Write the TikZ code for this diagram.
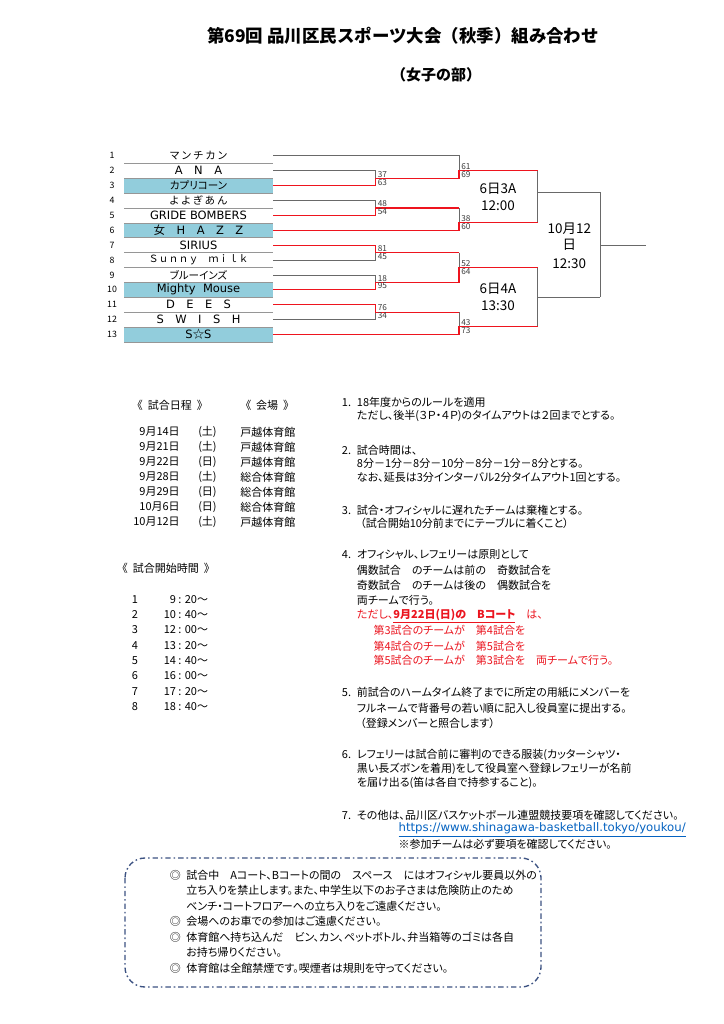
\documentclass[tikz,border=0pt]{standalone}
\usepackage{fontspec}
\setmainfont{Noto Sans CJK JP}[RawFeature=+palt]
\newfontfamily\jpfull{Noto Sans CJK JP}
\newfontfamily\latn{DejaVu Sans}

\definecolor{cellblue}{RGB}{146,205,220}
\definecolor{winred}{RGB}{238,20,30}
\definecolor{linegray}{RGB}{105,105,105}
\definecolor{cellgray}{RGB}{150,150,150}
\definecolor{scoregray}{RGB}{60,60,60}
\definecolor{txtred}{RGB}{235,20,30}
\definecolor{urlblue}{RGB}{5,99,193}
\definecolor{boxblue}{RGB}{60,82,130}

\tikzset{
  lbl/.style={anchor=west,inner sep=0pt,font=\fontsize{8.25}{10}\selectfont},
  redlbl/.style={lbl,text=txtred},
  teamjp/.style={inner sep=0pt,font=\fontsize{7.9}{9}\selectfont},
  teamla/.style={inner sep=0pt,font=\latn\fontsize{8.6}{9}\selectfont},
  rownum/.style={inner sep=0pt,font=\fontsize{6.6}{7}\selectfont},
  score/.style={anchor=west,inner sep=0pt,font=\fontsize{6.2}{7}\selectfont,text=scoregray},
  slot/.style={inner sep=0pt,font=\fontsize{10.1}{12}\selectfont},
  wline/.style={draw=winred,line width=0.9pt},
  lline/.style={draw=linegray,line width=0.6pt},
  cellline/.style={draw=cellgray,line width=0.5pt},
}

\begin{document}
\begin{tikzpicture}[x=0.75pt,y=0.75pt,yscale=-1,xscale=1]
\fill[white] (0,0) rectangle (724,1024);
\useasboundingbox (0,0) rectangle (724,1024);

% Text Node
\node[font=\jpfull\bfseries\fontsize{13.1}{15}\selectfont] (title) at (403,35.7) {第69回 品川区民スポーツ大会（秋季）組み合わせ};
% Text Node
\node[font=\jpfull\bfseries\fontsize{11.25}{13}\selectfont] (subtitle) at (436,75) {（女子の部）};

%Shape: Rectangle (seeded teams)
\fill[cellblue] (124,178.2) rectangle (273,193.1);
\fill[cellblue] (124,222.9) rectangle (273,237.8);
\fill[cellblue] (124,282.5) rectangle (273,297.4);
\fill[cellblue] (124,327.2) rectangle (273,342.1);
%Straight Lines (cell borders)
\draw[cellline] (124,163.3) -- (273,163.3);
\draw[cellline] (124,178.2) -- (273,178.2);
\draw[cellline] (124,193.1) -- (273,193.1);
\draw[cellline] (124,208.0) -- (273,208.0);
\draw[cellline] (124,222.9) -- (273,222.9);
\draw[cellline] (124,237.8) -- (273,237.8);
\draw[cellline] (124,252.7) -- (273,252.7);
\draw[cellline] (124,267.6) -- (273,267.6);
\draw[cellline] (124,282.5) -- (273,282.5);
\draw[cellline] (124,297.4) -- (273,297.4);
\draw[cellline] (124,312.3) -- (273,312.3);
\draw[cellline] (124,327.2) -- (273,327.2);
\draw[cellline] (124,342.1) -- (273,342.1);

% Text Node (draw numbers)
\node[rownum] (n1) at (112,155.7) {1};
\node[rownum] (n2) at (112,170.6) {2};
\node[rownum] (n3) at (112,185.5) {3};
\node[rownum] (n4) at (112,200.4) {4};
\node[rownum] (n5) at (112,215.3) {5};
\node[rownum] (n6) at (112,230.2) {6};
\node[rownum] (n7) at (112,245.1) {7};
\node[rownum] (n8) at (112,260.0) {8};
\node[rownum] (n9) at (112,274.9) {9};
\node[rownum] (n10) at (112,289.8) {10};
\node[rownum] (n11) at (112,304.7) {11};
\node[rownum] (n12) at (112,319.6) {12};
\node[rownum] (n13) at (112,334.5) {13};

% Text Node (teams)
\node[teamjp] (t1) at (198.5,155.7) {マ ン チ カ ン};
\node[teamla] (t2) at (198.5,170.6) {A\quad N\quad A};
\node[teamjp] (t3) at (198.5,185.5) {カプリコーン};
\node[teamjp] (t4) at (198.5,200.4) {よ よ ぎ あ ん};
\node[teamla] (t5) at (198.5,215.3) {GRIDE BOMBERS};
\node[teamla] (t6) at (198.5,230.2) {{\rmfamily 女}\quad H\quad A\quad Z\quad Z};
\node[teamla] (t7) at (198.5,245.1) {SIRIUS};
\node[teamjp,font=\jpfull\fontsize{7.5}{9}\selectfont] (t8) at (198.5,260.0) {Ｓｕｎｎｙ　ｍｉｌｋ};
\node[teamjp] (t9) at (198.5,274.9) {ブルーインズ};
\node[teamla] (t10) at (198.5,289.8) {Mighty\ \ Mouse};
\node[teamla] (t11) at (198.5,304.7) {D\quad E\quad E\quad S};
\node[teamla] (t12) at (198.5,319.6) {S\quad W\quad I\quad S\quad H};
\node[teamla] (t13) at (198.5,334.5) {S{\rmfamily ☆}S};

%Straight Lines (lost)
\draw[lline] (273,155.7) -- (459,155.7) -- (459,170.7);
\draw[lline] (273,170.6) -- (375.7,170.6) -- (375.7,178.1);
\draw[lline] (273,200.4) -- (375.7,200.4) -- (375.7,207.9);
\draw[lline] (459,207.9) -- (459,222.5);
\draw[lline] (273,260.0) -- (375.7,260.0) -- (375.7,252.6);
\draw[lline] (459,252.6) -- (459,267.5);
\draw[lline] (273,274.9) -- (375.7,274.9) -- (375.7,282.4);
\draw[lline] (273,319.6) -- (375.7,319.6) -- (375.7,312.2);
\draw[lline] (459,312.2) -- (459,326.5);
\draw[lline] (537.7,170.7) -- (537.7,222.5);
\draw[lline] (537.7,267.5) -- (537.7,326.5);
\draw[lline] (537.7,192.2) -- (600,192.2);
\draw[lline] (537.7,297) -- (600,297);
\draw[lline] (600,192.2) -- (600,297);
\draw[lline] (600,245) -- (645.7,245);

%Straight Lines (won)
\draw[wline] (273,185.5) -- (375.7,185.5) -- (375.7,178.1) -- (459,178.1) -- (459,170.7) -- (537.7,170.7);
\draw[wline] (273,215.3) -- (375.7,215.3) -- (375.7,207.9) -- (459,207.9);
\draw[wline] (273,230.2) -- (459,230.2) -- (459,222.5) -- (537.7,222.5);
\draw[wline] (273,245.1) -- (375.7,245.1) -- (375.7,252.6) -- (459,252.6);
\draw[wline] (273,289.8) -- (375.7,289.8) -- (375.7,282.4) -- (459,282.4) -- (459,267.5) -- (537.7,267.5);
\draw[wline] (273,304.7) -- (375.7,304.7) -- (375.7,312.2) -- (459,312.2);
\draw[wline] (273,334.5) -- (459,334.5) -- (459,326.5) -- (537.7,326.5);

% Text Node (scores)
\node[score] (s2) at (377.5,174.3) {37};
\node[score] (s3) at (377.5,182.3) {63};
\node[score] (s4) at (377.5,204) {48};
\node[score] (s5) at (377.5,212) {54};
\node[score] (s7) at (377.5,249) {81};
\node[score] (s8) at (377.5,256.7) {45};
\node[score] (s9) at (377.5,278.3) {18};
\node[score] (s10) at (377.5,286) {95};
\node[score] (s11) at (377.5,307.7) {76};
\node[score] (s12) at (377.5,315.3) {34};
\node[score] (r1) at (461,166.7) {61};
\node[score] (r3) at (461,174.7) {69};
\node[score] (r5) at (461,219) {38};
\node[score] (r6) at (461,227) {60};
\node[score] (r7) at (461,264) {52};
\node[score] (r10) at (461,271.7) {64};
\node[score] (r11) at (461,322.7) {43};
\node[score] (r13) at (461,330.7) {73};

% Text Node (slots)
\node[slot] (sf1a) at (498,188.3) {6日3A};
\node[slot] (sf1b) at (498,205.7) {12:00};
\node[slot] (sf2a) at (498,288.3) {6日4A};
\node[slot] (sf2b) at (498,305.7) {13:30};
\node[slot] (fina) at (569.3,228.3) {10月12};
\node[slot] (finb) at (569.3,245) {日};
\node[slot] (finc) at (569.3,263.3) {12:30};

% Text Node (schedule)
\node[lbl] (datehead) at (131.7,405) {{\jpfull 《\ \ 試合日程\ \ 》}};
\node[lbl] (venuehead) at (240,405) {{\jpfull 《\ \ 会場\ \ 》}};
\node[lbl,anchor=east] (d1) at (180,432) {9月14日};
\node[lbl] (w1) at (198,432) {(土)};
\node[lbl] (v1) at (240,432) {戸越体育館};
\node[lbl,anchor=east] (d2) at (180,447) {9月21日};
\node[lbl] (w2) at (198,447) {(土)};
\node[lbl] (v2) at (240,447) {戸越体育館};
\node[lbl,anchor=east] (d3) at (180,462) {9月22日};
\node[lbl] (w3) at (198,462) {(日)};
\node[lbl] (v3) at (240,462) {戸越体育館};
\node[lbl,anchor=east] (d4) at (180,477) {9月28日};
\node[lbl] (w4) at (198,477) {(土)};
\node[lbl] (v4) at (240,477) {総合体育館};
\node[lbl,anchor=east] (d5) at (180,492) {9月29日};
\node[lbl] (w5) at (198,492) {(日)};
\node[lbl] (v5) at (240,492) {総合体育館};
\node[lbl,anchor=east] (d6) at (180,507) {10月6日};
\node[lbl] (w6) at (198,507) {(日)};
\node[lbl] (v6) at (240,507) {総合体育館};
\node[lbl,anchor=east] (d7) at (180,522) {10月12日};
\node[lbl] (w7) at (198,522) {(土)};
\node[lbl] (v7) at (240,522) {戸越体育館};

% Text Node (start times)
\node[lbl] (timehead) at (116.7,568.3) {{\jpfull 《\ \ 試合開始時間\ \ 》}};
\node[lbl,anchor=center] (g1) at (135,599.3) {1};
\node[lbl,anchor=east] (h1) at (208.3,599.3) {9 : 20～};
\node[lbl,anchor=center] (g2) at (135,614.6) {2};
\node[lbl,anchor=east] (h2) at (208.3,614.6) {10 : 40～};
\node[lbl,anchor=center] (g3) at (135,629.9) {3};
\node[lbl,anchor=east] (h3) at (208.3,629.9) {12 : 00～};
\node[lbl,anchor=center] (g4) at (135,645.2) {4};
\node[lbl,anchor=east] (h4) at (208.3,645.2) {13 : 20～};
\node[lbl,anchor=center] (g5) at (135,660.5) {5};
\node[lbl,anchor=east] (h5) at (208.3,660.5) {14 : 40～};
\node[lbl,anchor=center] (g6) at (135,675.8) {6};
\node[lbl,anchor=east] (h6) at (208.3,675.8) {16 : 00～};
\node[lbl,anchor=center] (g7) at (135,691.1) {7};
\node[lbl,anchor=east] (h7) at (208.3,691.1) {17 : 20～};
\node[lbl,anchor=center] (g8) at (135,706.4) {8};
\node[lbl,anchor=east] (h8) at (208.3,706.4) {18 : 40～};

% Text Node (rules)
\node[lbl] (rule1) at (341.7,402.7) {\makebox[11.25pt][l]{1.}18年度からのルールを適用};
\node[lbl] (rule1b) at (356.7,416) {ただし、後半(３Ｐ・４Ｐ)のタイムアウトは２回までとする。};
\node[lbl] (rule2) at (341.7,450) {\makebox[11.25pt][l]{2.}試合時間は、};
\node[lbl] (rule2b) at (356.7,463.3) {8分－1分－8分－10分－8分－1分－8分とする。};
\node[lbl] (rule2c) at (356.7,477.3) {なお、延長は3分インターバル2分タイムアウト1回とする。};
\node[lbl] (rule3) at (341.7,510) {\makebox[11.25pt][l]{3.}試合・オフィシャルに遅れたチームは棄権とする。};
\node[lbl] (rule3b) at (360,523.3) {（試合開始10分前までにテーブルに着くこと）};
\node[lbl] (rule4) at (341.7,554) {\makebox[11.25pt][l]{4.}オフィシャル、レフェリーは原則として};
\node[lbl] (rule4b) at (356.7,570.7) {偶数試合　のチームは前の　奇数試合を};
\node[lbl] (rule4c) at (356.7,585.7) {奇数試合　のチームは後の　偶数試合を};
\node[lbl] (rule4d) at (356.7,600) {両チームで行う。};
\node[redlbl] (rule4e) at (356.7,616) {ただし、\underline{\textbf{9月22日(日)の　Bコート}}　は、};
\node[redlbl] (rule4f) at (373.3,630.7) {第3試合のチームが　第4試合を};
\node[redlbl] (rule4g) at (373.3,646) {第4試合のチームが　第5試合を};
\node[redlbl] (rule4h) at (373.3,660.7) {第5試合のチームが　第3試合を　両チームで行う。};
\node[lbl] (rule5) at (341.7,692.3) {\makebox[11.25pt][l]{5.}前試合のハームタイム終了までに所定の用紙にメンバーを};
\node[lbl] (rule5b) at (356.7,708) {フルネームで背番号の若い順に記入し役員室に提出する。};
\node[lbl] (rule5c) at (360,723.3) {（登録メンバーと照合します）};
\node[lbl] (rule6) at (341.7,755) {\makebox[11.25pt][l]{6.}レフェリーは試合前に審判のできる服装(カッターシャツ・};
\node[lbl] (rule6b) at (356.7,769.3) {黒い長ズボンを着用)をして役員室へ登録レフェリーが名前};
\node[lbl] (rule6c) at (356.7,783.3) {を届け出る(笛は各自で持参すること)。};
\node[lbl] (rule7) at (341.7,815) {\makebox[11.25pt][l]{7.}その他は、品川区バスケットボール連盟競技要項を確認してください。};
\node[lbl,text=urlblue,font=\latn\fontsize{8.8}{10}\selectfont] (url) at (398.3,830) {\underline{https://www.shinagawa-basketball.tokyo/youkou/}};
\node[lbl] (rule7c) at (398.3,844.3) {※参加チームは必ず要項を確認してください。};

%Shape: Rounded Rect (notes)
\draw[draw=boxblue,line width=1pt,rounded corners=15pt,dash pattern={on 4pt off 2.2pt on 1.2pt off 2.2pt}] (125,858) rectangle (541,987);
% Text Node (notes)
\node[lbl] (note1) at (186,875) {\llap{◎\hspace{4pt}}試合中　Aコート、Bコートの間の　スペース　にはオフィシャル要員以外の};
\node[lbl] (note1b) at (186,890.5) {立ち入りを禁止します。また、中学生以下のお子さまは危険防止のため};
\node[lbl] (note1c) at (186,906) {ベンチ・コートフロアーへの立ち入りをご遠慮ください。};
\node[lbl] (note2) at (186,921.5) {\llap{◎\hspace{4pt}}会場へのお車での参加はご遠慮ください。};
\node[lbl] (note3) at (186,937) {\llap{◎\hspace{4pt}}体育館へ持ち込んだ　ビン、カン、ペットボトル、弁当箱等のゴミは各自};
\node[lbl] (note3b) at (186,952.5) {お持ち帰りください。};
\node[lbl] (note4) at (186,968) {\llap{◎\hspace{4pt}}体育館は全館禁煙です。喫煙者は規則を守ってください。};

\end{tikzpicture}
\end{document}
